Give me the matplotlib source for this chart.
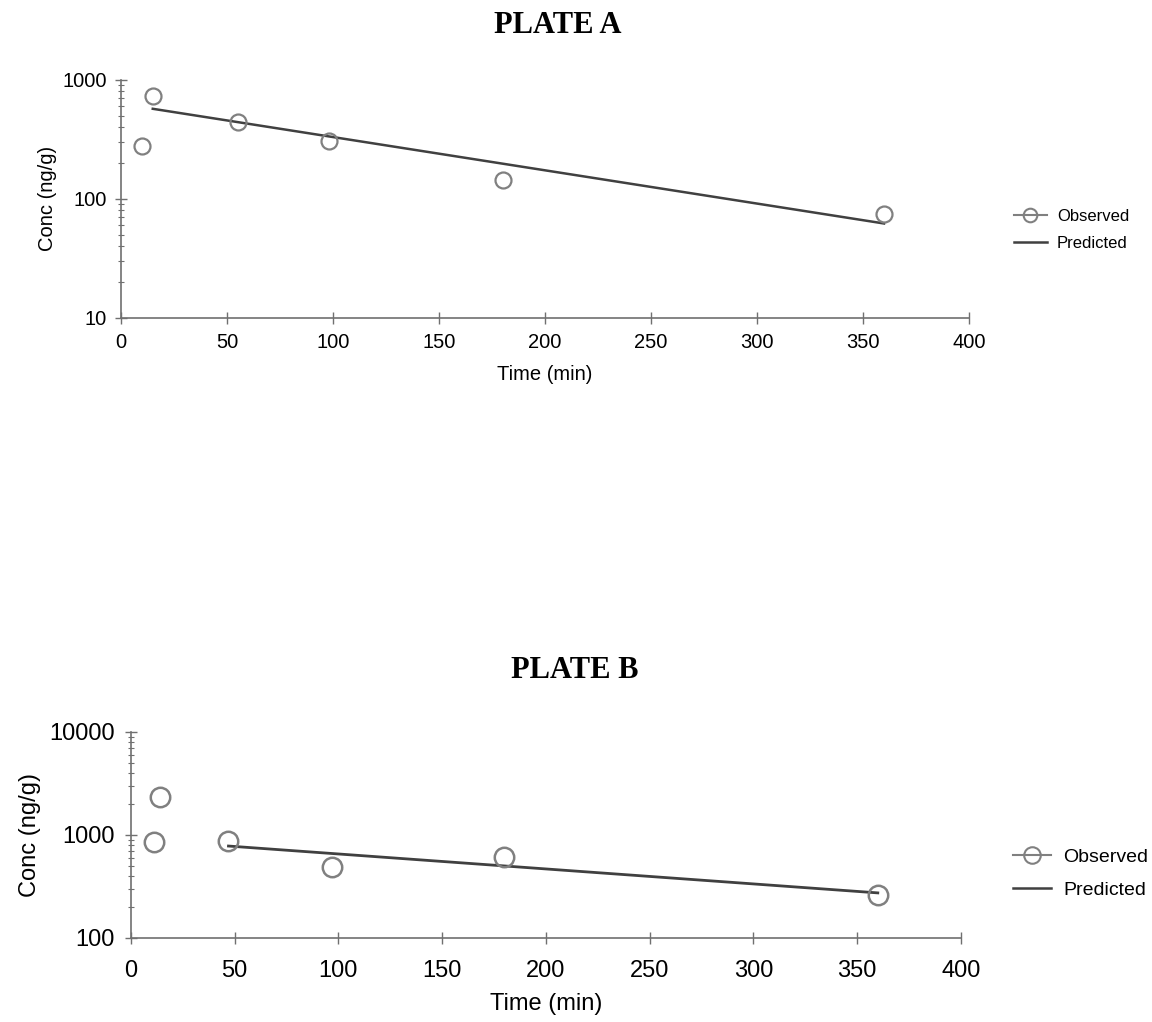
import numpy as np
import matplotlib
import matplotlib.pyplot as plt
from matplotlib.lines import Line2D
from matplotlib.ticker import LogLocator, FuncFormatter, NullFormatter

matplotlib.use('agg')
plt.rcParams['font.family'] = ['Liberation Sans', 'DejaVu Sans']

# Plate A data
a_obs_t = [10, 15, 55, 98, 180, 360]
a_obs_c = [279, 735, 444, 307, 145, 75]
a_pred_t = [15, 360]
a_pred_c = [570, 62]

# Plate B data
b_obs_t = [11, 14, 47, 97, 180, 360]
b_obs_c = [855, 2340, 880, 489, 611, 261]
b_pred_t = [47, 360]
b_pred_c = [781, 274]

xticks = [0, 50, 100, 150, 200, 250, 300, 350, 400]

OBS_COL = '#808080'
PRED_COL = '#404040'
AX_COL = '#707070'


def style_axes(ax, ylim, fs, lfs, ms, xpad, ypad, xlab_y, ylab_x, leg_xy, spacing):
    ax.set_yscale('log')
    ax.set_xlim(0, 400)
    ax.set_ylim(*ylim)
    ax.set_xticks(xticks)
    ax.yaxis.set_major_locator(LogLocator(base=10))
    ax.yaxis.set_minor_locator(LogLocator(base=10, subs=np.arange(2, 10)))
    ax.yaxis.set_major_formatter(FuncFormatter(lambda v, p: '%d' % v))
    ax.yaxis.set_minor_formatter(NullFormatter())
    for s in ['top', 'right']:
        ax.spines[s].set_visible(False)
    for s in ['left', 'bottom']:
        ax.spines[s].set_color(AX_COL)
        ax.spines[s].set_linewidth(1.2)
    ax.tick_params(axis='x', which='major', direction='inout', length=8,
                   color=AX_COL, width=1.0, labelsize=fs, pad=xpad)
    ax.tick_params(axis='y', which='major', direction='inout', length=8.5,
                   color=AX_COL, width=1.0, labelsize=fs, pad=ypad)
    ax.tick_params(axis='y', which='minor', direction='inout', length=5,
                   color=AX_COL, width=0.8)
    ax.set_xlabel('Time (min)', fontsize=fs)
    ax.set_ylabel('Conc (ng/g)', fontsize=fs)
    ax.xaxis.set_label_coords(0.5, xlab_y)
    ax.yaxis.set_label_coords(ylab_x, 0.5)
    handles = [Line2D([], [], color=OBS_COL, marker='o', markerfacecolor='none',
                      markeredgecolor=OBS_COL, markersize=ms * 0.85, markeredgewidth=1.5, lw=1.5),
               Line2D([], [], color=PRED_COL, lw=1.8)]
    ax.legend(handles, ['Observed', 'Predicted'], loc='center left',
              bbox_to_anchor=leg_xy, bbox_transform=fig.transFigure,
              frameon=False, fontsize=lfs, borderpad=0, borderaxespad=0,
              handlelength=2.0, handletextpad=0.6, labelspacing=spacing)


fig = plt.figure(figsize=(11.52, 10.22), dpi=100)

axA = fig.add_axes([0.105, 0.689, 0.736, 0.233])
axA.plot(a_pred_t, a_pred_c, color=PRED_COL, lw=1.8)
axA.plot(a_obs_t, a_obs_c, linestyle='none', marker='o', markerfacecolor='none',
         markeredgecolor=OBS_COL, markersize=11.5, markeredgewidth=1.6)
style_axes(axA, (10, 1000), 14.5, 12, 11.5, 7, 6, -0.197, -0.076,
           (0.880, 0.775), 0.75)

axB = fig.add_axes([0.1137, 0.0822, 0.7203, 0.2016])
axB.plot(b_pred_t, b_pred_c, color=PRED_COL, lw=2.0)
axB.plot(b_obs_t, b_obs_c, linestyle='none', marker='o', markerfacecolor='none',
         markeredgecolor=OBS_COL, markersize=14, markeredgewidth=1.8)
style_axes(axB, (100, 10000), 17, 14, 14, 12, 7.5, -0.267, -0.108,
           (0.879, 0.1453), 0.8)

fig.text(0.484, 0.975, 'PLATE A', ha='center', va='center', fontsize=22,
         fontweight='bold', family='Liberation Serif')
fig.text(0.499, 0.344, 'PLATE B', ha='center', va='center', fontsize=22,
         fontweight='bold', family='Liberation Serif')

fig.savefig('out.png', dpi=100)
